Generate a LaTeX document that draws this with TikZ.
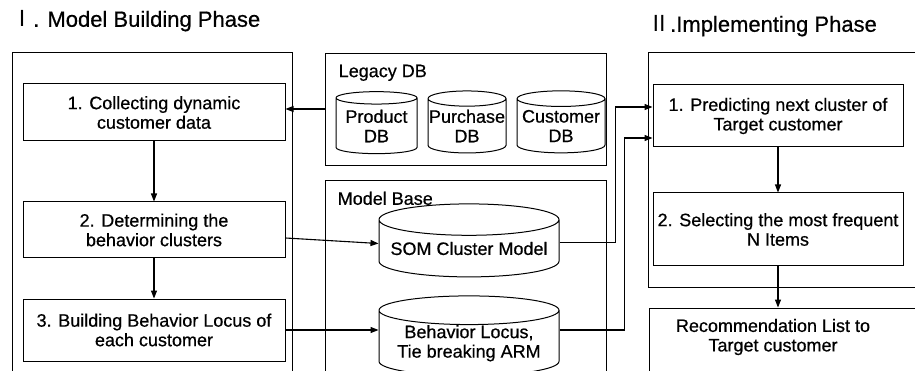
\documentclass[tikz,border=0pt]{standalone}
\usepackage{fontspec}
\setmainfont{Liberation Sans}
\newfontfamily\inkfont{Liberation Sans}[FakeBold=0.6]
\newfontfamily\cjk{Noto Sans CJK JP}
\usetikzlibrary{shapes.geometric,arrows.meta,positioning}

\begin{document}
\begin{tikzpicture}[x=1pt, y=-1pt,
  phase/.style={rectangle, draw, line width=0.9pt, inner sep=0pt},
  stepbox/.style={rectangle, draw, line width=1pt, minimum width=262pt,
              align=center, font=\inkfont\fontsize{18}{19.5}\selectfont, inner sep=0pt},
  db/.style={cylinder, shape border rotate=90, draw, line width=1pt, aspect=0.2,
              align=center, font=\inkfont\fontsize{18}{19.5}\selectfont, inner sep=0pt},
  ttl/.style={anchor=west, inner sep=0pt, font=\inkfont\fontsize{22}{24}\selectfont},
  lbl/.style={anchor=north west, inner sep=0pt, font=\inkfont\fontsize{18}{19.5}\selectfont},
  arr/.style={-{Triangle[length=8pt,width=6pt]}, line width=1.1pt}]
\useasboundingbox (0,0) rectangle (915,371);
\clip (0,0) rectangle (915,371);

\node[ttl] (ttlI) at (11,21) {{\cjk Ⅰ}. Model Building Phase};
\node[ttl] (ttlII) at (648,26) {{\cjk Ⅱ}.Implementing Phase};

% model building phase
\node[phase, minimum width=280pt, minimum height=348pt] (phaseI) at (152,226) {};
\node[stepbox, minimum height=57pt] (collect) at (154,112.5)
  {1. Collecting dynamic\\ customer data};
\node[stepbox, minimum height=56pt, below=60pt of collect] (clusters)
  {2. Determining the\\ behavior clusters};
\node[stepbox, minimum height=62pt, below=40pt of clusters] (locus)
  {3. Building Behavior Locus of\\ each customer};

% legacy databases
\node[phase, minimum width=281pt, minimum height=112pt] (legacy) at (465.5,109) {};
\node[lbl] (legacylbl) at ([xshift=14pt,yshift=-12pt]legacy.north west) {Legacy DB};
\node[db, minimum width=81pt, minimum height=62pt] (product) at (376.5,126) {Product\\ DB};
\node[db, minimum width=78pt, minimum height=62pt, right=10pt of product] (purchase) {Purchase\\ DB};
\node[db, minimum width=88pt, minimum height=62pt, right=10pt of purchase] (customer) {Customer\\ DB};

% model base
\node[phase, minimum width=281pt, minimum height=220pt] (modelbase) at (465.5,290) {};
\node[lbl] (modelbaselbl) at ([xshift=13pt,yshift=-12pt]modelbase.north west) {Model Base};
\node[db, minimum width=180pt, minimum height=73pt] (som) at (469,248.5) {\raisebox{-8pt}{SOM Cluster Model}};
\node[db, minimum width=180pt, minimum height=65pt, below=18pt of som] (blocus)
  {Behavior Locus,\\ Tie breaking ARM};

% implementing phase
\node[phase, minimum width=282pt, minimum height=235pt] (phaseII) at (789,169.5) {};
\node[stepbox, minimum width=250pt, minimum height=62pt] (predict) at (778,116)
  {1. Predicting next cluster of\\ Target customer};
\node[stepbox, minimum width=250pt, minimum height=73pt, below=45pt of predict] (select)
  {2. Selecting the most frequent\\ N Items};
\node[phase, minimum width=281pt, minimum height=92pt] (recframe) at (789.5,354) {};
\node[inner sep=0pt, align=center, font=\inkfont\fontsize{18}{19.5}\selectfont] (rec) at (773,337)
  {Recommendation List to\\ Target customer};

% flows
\draw[arr] (legacy.west) -- (legacy.west -| collect.east);
\draw[arr] (collect) -- (clusters);
\draw[arr] (clusters) -- (locus);
\draw[arr] ([yshift=-8pt]clusters.east) -- ([yshift=5pt]som.west);
\draw[arr] (locus.east) -- (locus.east -| blocus.west);
\draw[arr] ([yshift=6pt]som.east) -- ++(56,0) |- ([yshift=9pt]predict.west);
\draw[arr] (blocus.east |- locus.east) -- ++(65,0) |- ([yshift=-22pt]predict.west);
\draw[arr] (predict) -- (select);
\draw[arr] (select.south) -- (select.south |- recframe.north);
\end{tikzpicture}
\end{document}
